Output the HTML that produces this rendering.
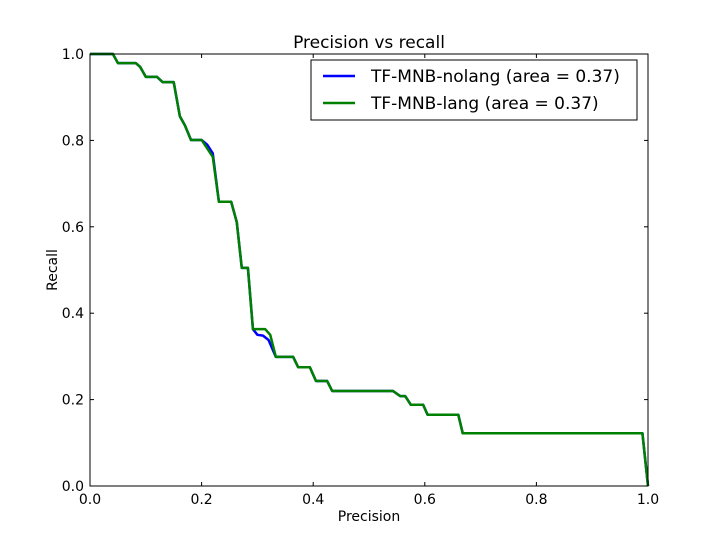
<!DOCTYPE html>
<html><head><meta charset="utf-8"><style>
body{margin:0;background:#fff}
svg{display:block;font-family:"DejaVu Sans","Liberation Sans",sans-serif}
</style></head><body>
<svg id="chart" width="720" height="540">
<rect width="720" height="540" fill="#fff"/>
<g id="plot"></g>
</svg>
<script>
const seriesNames=["TF-MNB-nolang (area = 0.37)","TF-MNB-lang (area = 0.37)"];
const blueX=[0,0.041,0.05,0.082,0.09,0.1,0.12,0.13,0.15,0.161,0.17,0.181,0.2,0.21,0.22,0.231,0.253,0.263,0.272,0.283,0.292,0.3,0.31,0.32,0.333,0.364,0.373,0.394,0.405,0.425,0.434,0.543,0.556,0.565,0.575,0.597,0.605,0.66,0.668,0.99,1.0];
const blueY=[1,1,0.979,0.979,0.97,0.947,0.947,0.935,0.935,0.856,0.835,0.801,0.801,0.79,0.77,0.658,0.658,0.611,0.505,0.505,0.363,0.35,0.348,0.338,0.299,0.299,0.275,0.275,0.243,0.243,0.22,0.22,0.208,0.208,0.188,0.188,0.165,0.165,0.122,0.122,0];
const greenX=[0,0.041,0.05,0.082,0.09,0.1,0.12,0.13,0.15,0.161,0.17,0.181,0.2,0.22,0.231,0.253,0.263,0.272,0.283,0.292,0.314,0.323,0.333,0.364,0.373,0.394,0.405,0.425,0.434,0.543,0.556,0.565,0.575,0.597,0.605,0.66,0.668,0.99,1.0];
const greenY=[1,1,0.979,0.979,0.97,0.947,0.947,0.935,0.935,0.856,0.835,0.801,0.801,0.762,0.658,0.658,0.611,0.505,0.505,0.363,0.363,0.35,0.299,0.299,0.275,0.275,0.243,0.243,0.22,0.22,0.208,0.208,0.188,0.188,0.165,0.165,0.122,0.122,0];
const xTicks=[0,0.2,0.4,0.6,0.8,1.0];
const yTicks=[0,0.2,0.4,0.6,0.8,1.0];
const tickLabels=["0.0","0.2","0.4","0.6","0.8","1.0"];

const L=90,R=648,T=54,B=486;
const sx=v=>L+(R-L)*v, sy=v=>B-(B-T)*v;
const NS="http://www.w3.org/2000/svg";
const g=document.getElementById('plot');
function mk(tag,attrs,parent){const e=document.createElementNS(NS,tag);for(const k in attrs)e.setAttribute(k,attrs[k]);(parent||g).appendChild(e);return e;}
function txt(s,attrs){const e=mk('text',attrs);e.textContent=s;return e;}

function line(xs,ys,color,name){
  const p=mk('polyline',{points:xs.map((x,i)=>sx(x)+','+sy(ys[i])).join(' '),fill:'none',stroke:color,'stroke-width':2.5,'stroke-linejoin':'round'});
  
  
}
line(blueX,blueY,'#0000ff','series-nolang');
line(greenX,greenY,'#008000','series-lang');

const frame=mk('rect',{x:L,y:T,width:R-L,height:B-T,fill:'none',stroke:'#000','stroke-width':1});



xTicks.forEach((v,i)=>{
  const x=sx(v);
  mk('line',{x1:x,x2:x,y1:B,y2:B-4,stroke:'#000'});
  mk('line',{x1:x,x2:x,y1:T,y2:T+4,stroke:'#000'});
  const t=txt(tickLabels[i],{x:x,y:B+18,'font-size':14,'text-anchor':'middle'});
  
  
});
yTicks.forEach((v,i)=>{
  const y=sy(v);
  mk('line',{x1:L,x2:L+4,y1:y,y2:y,stroke:'#000'});
  mk('line',{x1:R,x2:R-4,y1:y,y2:y,stroke:'#000'});
  const t=txt(tickLabels[i],{x:L-6,y:y+5,'font-size':14,'text-anchor':'end'});
  
  
});

const title=txt('Precision vs recall',{x:369,y:48,'font-size':17,'text-anchor':'middle'});


const xt=txt('Precision',{x:369,y:521,'font-size':14,'text-anchor':'middle'});


const yt=txt('Recall',{x:0,y:0,'font-size':14,'text-anchor':'middle',transform:'translate(57,270) rotate(-90)'});



const leg=mk('rect',{x:311,y:60,width:326,height:60,fill:'#fff',stroke:'#000','stroke-width':1});


const colors=['#0000ff','#008000'];
seriesNames.forEach((n,i)=>{
  const y=76+i*27;
  mk('line',{x1:323,x2:355,y1:y,y2:y,stroke:colors[i],'stroke-width':2.5});
  const t=txt(n,{x:371,y:y+6,'font-size':17});
  
  
});
</script>
</body></html>
